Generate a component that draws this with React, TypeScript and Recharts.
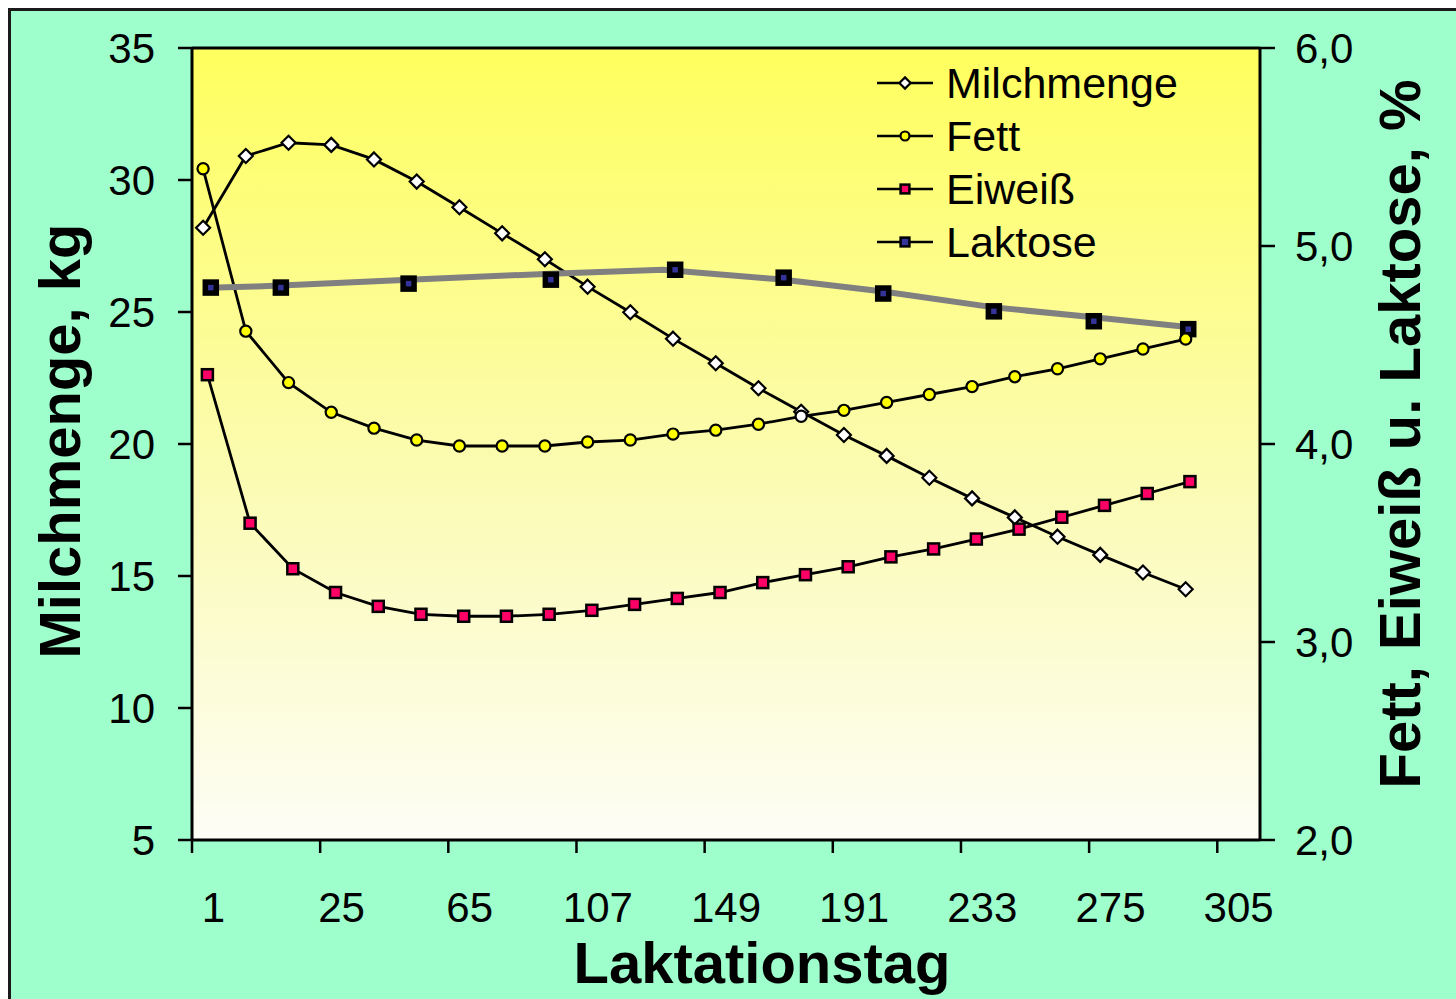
import React from 'react';
import {
  ComposedChart,
  Line,
  XAxis,
  YAxis,
  CartesianGrid,
  ReferenceLine,
  Legend,
} from 'recharts';

// Laktationstag tick labels (one label every third measurement slot)
const xTickLabels = ['1', '25', '65', '107', '149', '191', '233', '275', '305'];

// Daily milk yield, kg (left axis)
const milchmenge = [
  28.19, 30.91, 31.41, 31.33, 30.78, 29.94, 28.97, 27.98, 27.0, 25.96, 24.99, 23.99,
  23.06, 22.11, 21.22, 20.34, 19.55, 18.72, 17.94, 17.22, 16.49, 15.8, 15.13, 14.5,
];

// Fat content, % (right axis)
const fett = [
  5.39, 4.57, 4.31, 4.16, 4.08, 4.02, 3.99, 3.99, 3.99, 4.01, 4.02, 4.05,
  4.07, 4.1, 4.14, 4.17, 4.21, 4.25, 4.29, 4.34, 4.38, 4.43, 4.48, 4.53,
];

// Protein content, % (right axis)
const eiweiss = [
  4.35, 3.6, 3.37, 3.25, 3.18, 3.14, 3.13, 3.13, 3.14, 3.16, 3.19, 3.22,
  3.25, 3.3, 3.34, 3.38, 3.43, 3.47, 3.52, 3.57, 3.63, 3.69, 3.75, 3.81,
];

// Lactose samples, % (right axis) and their positions on the slot scale
const laktoseX = [0.44, 2.08, 5.07, 8.4, 11.31, 13.85, 16.18, 18.77, 21.11, 23.32];
const laktose = [4.79, 4.79, 4.81, 4.83, 4.88, 4.84, 4.76, 4.67, 4.62, 4.58];

// Lactose course line, % (right axis)
const laktoseLinieX = [0.6, 2.08, 5.07, 8.4, 11.03, 13.85, 16.18, 18.77, 21.11, 23.36];
const laktoseLinie = [4.79, 4.8, 4.83, 4.86, 4.88, 4.83, 4.77, 4.69, 4.64, 4.59];

const FONT = "Arial, 'Liberation Sans', sans-serif";
const SLOT_COUNT = 25;
const MILK_SHIFT = 0.26;
const PROT_SHIFT = 0.36;
const FETT_WHITE_INDEX = 14;

const milkRows = milchmenge.map((v, i) => ({ x: i + MILK_SHIFT, v }));
const fettRows = fett.map((v, i) => ({ x: i + MILK_SHIFT, v }));
const eiweissRows = eiweiss.map((v, i) => ({ x: i + PROT_SHIFT, v }));
const laktoseRows = laktose.map((v, i) => ({ x: laktoseX[i], v }));
const laktoseLinieRows = laktoseLinie.map((v, i) => ({ x: laktoseLinieX[i], v }));

const boundaryTicks = xTickLabels.map((_, i) => i * 3);
const labelTicks = xTickLabels.map((_, i) => i * 3 + 0.5);
const formatSlot = (v: number) => xTickLabels[Math.round((v - 0.5) / 3)] ?? '';

const legendOrder = ['Milchmenge', 'Fett', 'Eiweiß', 'Laktose'];

function marker(name: string, cx: number, cy: number, s: number, key: string) {
  if (name === 'Milchmenge') {
    const r = 7 * s;
    return (
      <path
        key={key}
        d={`M${cx},${cy - r}L${cx + r},${cy}L${cx},${cy + r}L${cx - r},${cy}Z`}
        fill="#ffffff"
        stroke="#000"
        strokeWidth={2.2}
      />
    );
  }
  if (name === 'Fett') {
    return <circle key={key} cx={cx} cy={cy} r={5.6 * s} fill="#ffff00" stroke="#000" strokeWidth={2.2} />;
  }
  if (name === 'Eiweiß') {
    const h = 5.5 * s;
    return <rect key={key} x={cx - h} y={cy - h} width={2 * h} height={2 * h} fill="#ff0066" stroke="#000" strokeWidth={2.5} />;
  }
  const h = 5.5 * s;
  return (
    <rect
      key={key}
      x={cx - h}
      y={cy - h}
      width={2 * h}
      height={2 * h}
      fill="#333399"
      stroke="#000"
      strokeWidth={s < 1 ? 2.5 : 5.5}
    />
  );
}

const milkDot = (p: any) => {
  if (p.cx == null || p.cy == null) return <g key={`m${p.index}`} />;
  return marker('Milchmenge', p.cx, p.cy, 1, `m${p.index}`);
};

const fettDot = (p: any) => {
  if (p.cx == null || p.cy == null) return <g key={`f${p.index}`} />;
  if (p.index === FETT_WHITE_INDEX) {
    return <circle key={`f${p.index}`} cx={p.cx} cy={p.cy} r={5.6} fill="#ffffff" stroke="#000" strokeWidth={2.2} />;
  }
  return marker('Fett', p.cx, p.cy, 1, `f${p.index}`);
};

const eiweissDot = (p: any) => {
  if (p.cx == null || p.cy == null) return <g key={`e${p.index}`} />;
  return marker('Eiweiß', p.cx, p.cy, 1, `e${p.index}`);
};

const laktoseDot = (p: any) => {
  if (p.cx == null || p.cy == null) return <g key={`l${p.index}`} />;
  return marker('Laktose', p.cx, p.cy, 1, `l${p.index}`);
};

const renderLegend = (props: any) => {
  const items = [...(props.payload || [])]
    .filter((e: any) => legendOrder.includes(e.value))
    .sort((a: any, b: any) => legendOrder.indexOf(a.value) - legendOrder.indexOf(b.value));
  return (
    <svg width={360} height={215} style={{ display: 'block' }}>
      {items.map((e: any, i: number) => {
        const cy = 26 + i * 53;
        return (
          <g key={e.value}>
            <line x1={4} x2={60} y1={cy} y2={cy} stroke="#000" strokeWidth={2.5} />
            {marker(e.value, 32, cy, 0.8, `lg${i}`)}
            <text x={73} y={cy + 15} fontSize={43} fontFamily={FONT} fill="#000">
              {e.value}
            </text>
          </g>
        );
      })}
    </svg>
  );
};

const leftTitle = (props: any) => {
  const vb = props.viewBox || { x: 0, y: 0, width: 0, height: 0 };
  const cx = vb.x + 69;
  const cy = vb.y + vb.height / 2 - 3;
  return (
    <text
      x={cx}
      y={cy}
      transform={`rotate(-90, ${cx}, ${cy})`}
      textAnchor="middle"
      fontSize={58}
      fontWeight="bold"
      fontFamily={FONT}
      fill="#000"
    >
      Milchmenge, kg
    </text>
  );
};

const rightTitle = (props: any) => {
  const vb = props.viewBox || { x: 0, y: 0, width: 0, height: 0 };
  const cx = vb.x + 160;
  const cy = vb.y + vb.height / 2 - 10;
  return (
    <text
      x={cx}
      y={cy}
      transform={`rotate(-90, ${cx}, ${cy})`}
      textAnchor="middle"
      fontSize={58}
      fontWeight="bold"
      fontFamily={FONT}
      fill="#000"
    >
      Fett, Eiweiß u. Laktose, %
    </text>
  );
};

const bottomTitle = (props: any) => {
  const vb = props.viewBox || { x: 0, y: 0, width: 0, height: 0 };
  return (
    <text
      x={vb.x + vb.width / 2 + 36}
      y={vb.y + 119}
      textAnchor="middle"
      fontSize={58}
      fontWeight="bold"
      fontFamily={FONT}
      fill="#000"
    >
      Laktationstag
    </text>
  );
};

const axisStroke = { stroke: '#000', strokeWidth: 3 };
const tickStroke = { stroke: '#000', strokeWidth: 2.5 };
const tickFont = { fontSize: 42, fill: '#000', fontFamily: FONT };

export default function App() {
  return (
    <div
      style={{
        position: 'fixed',
        left: 8,
        top: 8,
        width: 1448,
        height: 991,
        background: '#9effcc',
        borderTop: '3px solid #1a1a1a',
        borderLeft: '3px solid #1a1a1a',
        boxSizing: 'border-box',
      }}
    >
      <ComposedChart width={1445} height={988} margin={{ top: 37, right: 0, bottom: 0, left: 0 }}>
        <defs>
          <linearGradient id="plotFill" x1="0" y1="0" x2="0" y2="1">
            <stop offset="0%" stopColor="#ffff5e" />
            <stop offset="55%" stopColor="#fbfbb4" />
            <stop offset="100%" stopColor="#fdfdf6" />
          </linearGradient>
        </defs>
        <CartesianGrid xAxisId="a" yAxisId="kg" horizontal={false} vertical={false} fill="url(#plotFill)" />
        {/* label row sits below the tick-mark row */}
        <XAxis
          xAxisId="b"
          dataKey="x"
          type="number"
          domain={[0, SLOT_COUNT]}
          ticks={labelTicks}
          interval={0}
          height={135}
          tickSize={0}
          tickMargin={28}
          axisLine={false}
          tickLine={false}
          tick={tickFont}
          tickFormatter={formatSlot}
          label={bottomTitle}
          allowDataOverflow
        />
        <XAxis
          xAxisId="a"
          dataKey="x"
          type="number"
          domain={[0, SLOT_COUNT]}
          ticks={boundaryTicks}
          interval={0}
          height={24}
          tickSize={13}
          axisLine={axisStroke}
          tickLine={tickStroke}
          tick={() => <g />}
          allowDataOverflow
        />
        <YAxis
          yAxisId="kg"
          orientation="left"
          type="number"
          domain={[5, 35]}
          ticks={[5, 10, 15, 20, 25, 30, 35]}
          interval={0}
          width={181}
          tickSize={14}
          tickMargin={23}
          axisLine={axisStroke}
          tickLine={tickStroke}
          tick={tickFont}
          label={leftTitle}
        />
        <YAxis
          yAxisId="pct"
          orientation="right"
          type="number"
          domain={[2, 6]}
          ticks={[2, 3, 4, 5, 6]}
          interval={0}
          width={196}
          tickSize={15}
          tickMargin={20}
          axisLine={axisStroke}
          tickLine={tickStroke}
          tick={tickFont}
          tickFormatter={(v: number) => v.toFixed(1).replace('.', ',')}
          label={rightTitle}
        />
        <ReferenceLine xAxisId="a" yAxisId="kg" y={35} stroke="#000" strokeWidth={3} />
        <Line
          name="Laktose"
          data={laktoseRows}
          dataKey="v"
          xAxisId="a"
          yAxisId="pct"
          type="linear"
          stroke="none"
          dot={laktoseDot}
          activeDot={false}
          isAnimationActive={false}
        />
        <Line
          name="Milchmenge"
          data={milkRows}
          dataKey="v"
          xAxisId="a"
          yAxisId="kg"
          type="linear"
          stroke="#000"
          strokeWidth={2.8}
          dot={milkDot}
          activeDot={false}
          isAnimationActive={false}
        />
        <Line
          name="Fett"
          data={fettRows}
          dataKey="v"
          xAxisId="a"
          yAxisId="pct"
          type="linear"
          stroke="#000"
          strokeWidth={2.8}
          dot={fettDot}
          activeDot={false}
          isAnimationActive={false}
        />
        <Line
          name="Eiweiß"
          data={eiweissRows}
          dataKey="v"
          xAxisId="a"
          yAxisId="pct"
          type="linear"
          stroke="#000"
          strokeWidth={2.8}
          dot={eiweissDot}
          activeDot={false}
          isAnimationActive={false}
        />
        <Line
          name="Laktose-Verlauf"
          legendType="none"
          data={laktoseLinieRows}
          dataKey="v"
          xAxisId="a"
          yAxisId="pct"
          type="linear"
          stroke="#808080"
          strokeWidth={6}
          strokeLinejoin="round"
          strokeLinecap="round"
          dot={false}
          activeDot={false}
          isAnimationActive={false}
        />
        <Legend
          layout="vertical"
          align="center"
          verticalAlign="middle"
          content={renderLegend}
          wrapperStyle={{ top: 46, left: 862, width: 360, height: 215 }}
        />
      </ComposedChart>
    </div>
  );
}
